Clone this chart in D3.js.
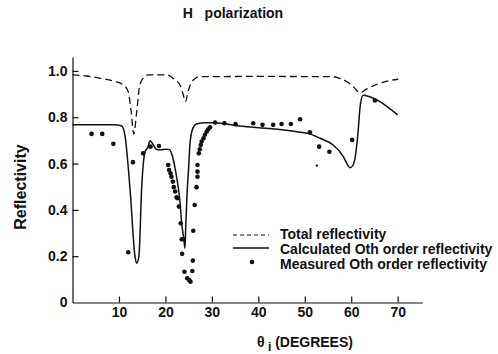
<!DOCTYPE html>
<html>
<head>
<meta charset="utf-8">
<style>
  body { margin: 0; background: #fff; }
  text { font-family: "Liberation Sans", Arial, sans-serif; fill: #111; }
</style>
</head>
<body>
<div id="chart"></div>
<script src="https://cdn.jsdelivr.net/npm/d3@7"></script>
<script>
// total reflectivity (dashed)
var totalX = [0, 3, 6, 9, 10.9, 12, 12.6, 13.2, 13.8, 14.5, 15.3, 16.3, 20.3, 22, 23.1, 23.8, 24.3, 25, 26, 27.4, 40, 56, 57.5, 59, 60.5, 61.9, 63.2, 64.7, 67, 70.1];
var totalY = [0.983, 0.978, 0.968, 0.955, 0.94, 0.91, 0.83, 0.727, 0.82, 0.94, 0.97, 0.983, 0.983, 0.962, 0.94, 0.9, 0.867, 0.92, 0.961, 0.975, 0.976, 0.975, 0.968, 0.954, 0.93, 0.906, 0.92, 0.935, 0.952, 0.964];

// calculated 0th order reflectivity (solid)
var calcX = [0, 9, 10.6, 11.3, 12.4, 13.45, 13.8, 14.3, 14.9, 15.6, 16.2, 16.7, 17.2, 18, 18.8, 20.2, 20.9, 21.3, 22.4, 23.1, 23.5, 24.0, 24.2, 24.4, 24.7, 25.0, 25.3, 25.9, 26.7, 28.5, 30.3, 36, 43, 48.3, 51, 53.3, 56.1, 58.3, 59.2, 59.7, 60.3, 60.8, 61.4, 62.0, 62.6, 63.2, 70];
var calcY = [0.767, 0.767, 0.762, 0.72, 0.486, 0.2, 0.169, 0.2, 0.5, 0.65, 0.67, 0.698, 0.688, 0.662, 0.659, 0.662, 0.66, 0.645, 0.543, 0.443, 0.342, 0.27, 0.234, 0.342, 0.486, 0.58, 0.688, 0.752, 0.771, 0.776, 0.776, 0.762, 0.75, 0.737, 0.728, 0.709, 0.68, 0.63, 0.595, 0.582, 0.59, 0.62, 0.72, 0.86, 0.895, 0.893, 0.81];

// measured 0th order reflectivity (dots)
var measX = [4.1, 6.4, 8.8, 12.0, 13.0, 15.2, 16.8, 18.6, 20.6, 20.8, 21.1, 21.3, 21.6, 21.8, 22.1, 22.4, 22.6, 22.9, 23.3, 23.5, 23.9, 23.6, 24.1, 24.7, 25.1, 25.4, 25.8, 25.9, 26.0, 26.3, 26.7, 26.9, 26.9, 26.9, 27.2, 27.4, 27.6, 27.8, 28.2, 28.5, 28.9, 29.2, 29.6, 30.7, 32.7, 35.1, 38.9, 40.9, 43.2, 45.0, 47.0, 49.0, 51.1, 53.1, 55.3, 60.2, 65.1];
var measY = [0.728, 0.728, 0.685, 0.217, 0.606, 0.644, 0.673, 0.676, 0.594, 0.572, 0.558, 0.543, 0.522, 0.498, 0.479, 0.454, 0.45, 0.414, 0.342, 0.273, 0.273, 0.21, 0.133, 0.105, 0.097, 0.09, 0.136, 0.181, 0.31, 0.421, 0.498, 0.543, 0.565, 0.594, 0.644, 0.662, 0.68, 0.695, 0.709, 0.724, 0.738, 0.748, 0.757, 0.777, 0.774, 0.77, 0.774, 0.767, 0.767, 0.771, 0.771, 0.791, 0.735, 0.673, 0.651, 0.702, 0.872];
// a faint stray point
var strayX = [52.6];
var strayY = [0.591];

var xTicks = [10, 20, 30, 40, 50, 60, 70];
var yTicks = [0, 0.2, 0.4, 0.6, 0.8, 1.0];

var W = 498, H = 354;

var svg = d3.select("#chart").append("svg")
    .attr("width", W)
    .attr("height", H);

// scales
var x = d3.scaleLinear().domain([0, 75.3]).range([72.5, 422.3]);
var y = d3.scaleLinear().domain([0, 1.06]).range([302.5, 57]);

// axes
var xAxis = d3.axisBottom(x)
    .tickValues(xTicks)
    .tickSize(-6)
    .tickSizeOuter(0)
    .tickPadding(5);

var yAxis = d3.axisLeft(y)
    .tickValues(yTicks)
    .tickSize(-6)
    .tickSizeOuter(0)
    .tickPadding(5)
    .tickFormat(function(d) { return d === 0 ? "0" : d3.format(".1f")(d); });

var gx = svg.append("g")
    .attr("transform", "translate(0," + y(0) + ")")
    .call(xAxis);
var gy = svg.append("g")
    .attr("transform", "translate(" + x(0) + ",0)")
    .call(yAxis);

[gx, gy].forEach(function(g) {
    g.selectAll("path, line").attr("stroke", "#111").attr("stroke-width", 1.2);
    g.selectAll("text")
        .attr("fill", "#111")
        .style("font-family", "Liberation Sans, Arial, sans-serif")
        .style("font-weight", "bold")
        .style("font-size", "14px");
});
gy.selectAll(".tick").filter(function(d) { return d === 0; }).select("line").remove();

// lines
var lineFn = d3.line()
    .curve(d3.curveMonotoneX)
    .x(function(d) { return x(d[0]); })
    .y(function(d) { return y(d[1]); });

var totalPts = totalX.map(function(v, i) { return [v, totalY[i]]; });
var calcPts = calcX.map(function(v, i) { return [v, calcY[i]]; });

svg.append("path")
    .attr("d", lineFn(totalPts))
    .attr("fill", "none")
    .attr("stroke", "#111")
    .attr("stroke-width", 1.3)
    .attr("stroke-dasharray", "7,4");

svg.append("path")
    .attr("d", lineFn(calcPts))
    .attr("fill", "none")
    .attr("stroke", "#111")
    .attr("stroke-width", 1.5);

// measured points
svg.append("g").selectAll("circle")
    .data(measX.map(function(v, i) { return [v, measY[i]]; }))
    .enter().append("circle")
    .attr("cx", function(d) { return x(d[0]); })
    .attr("cy", function(d) { return y(d[1]); })
    .attr("r", 2.3)
    .attr("fill", "#111");

svg.append("g").selectAll("circle")
    .data(strayX.map(function(v, i) { return [v, strayY[i]]; }))
    .enter().append("circle")
    .attr("cx", function(d) { return x(d[0]); })
    .attr("cy", function(d) { return y(d[1]); })
    .attr("r", 1.2)
    .attr("fill", "#111");

// title
svg.append("text")
    .attr("x", 233)
    .attr("y", 18)
    .attr("text-anchor", "middle")
    .style("white-space", "pre")
    .style("font-weight", "bold")
    .style("font-size", "14px")
    .text("H   polarization");

// y label
svg.append("text")
    .attr("transform", "translate(26,187) rotate(-90)")
    .attr("text-anchor", "middle")
    .style("font-weight", "bold")
    .style("font-size", "16px")
    .text("Reflectivity");

// x label
var xl = svg.append("text")
    .attr("x", 305)
    .attr("y", 347)
    .attr("text-anchor", "middle")
    .style("font-weight", "bold")
    .style("font-size", "14px");
xl.append("tspan").text("θ");
xl.append("tspan").attr("dy", 4).attr("font-size", "12px").text(" i");
xl.append("tspan").attr("dy", -4).text(" (DEGREES)");

// legend
var lg = svg.append("g");
lg.append("line").attr("x1", 233).attr("x2", 269).attr("y1", 235).attr("y2", 235)
    .attr("stroke", "#111").attr("stroke-width", 1.2).attr("stroke-dasharray", "4,3");
lg.append("line").attr("x1", 233).attr("x2", 269).attr("y1", 248).attr("y2", 248)
    .attr("stroke", "#111").attr("stroke-width", 1.5);
lg.append("circle").attr("cx", 252).attr("cy", 262).attr("r", 2.3).attr("fill", "#111");

var legendNames = ["Total reflectivity", "Calculated Oth order reflectivity", "Measured Oth order reflectivity"];
lg.selectAll("text.leg")
    .data(legendNames)
    .enter().append("text")
    .attr("class", "leg")
    .attr("x", 280)
    .attr("y", function(d, i) { return 239 + i * 15; })
    .style("font-weight", "bold")
    .style("font-size", "14px")
    .text(function(d) { return d; });
</script>
</body>
</html>
